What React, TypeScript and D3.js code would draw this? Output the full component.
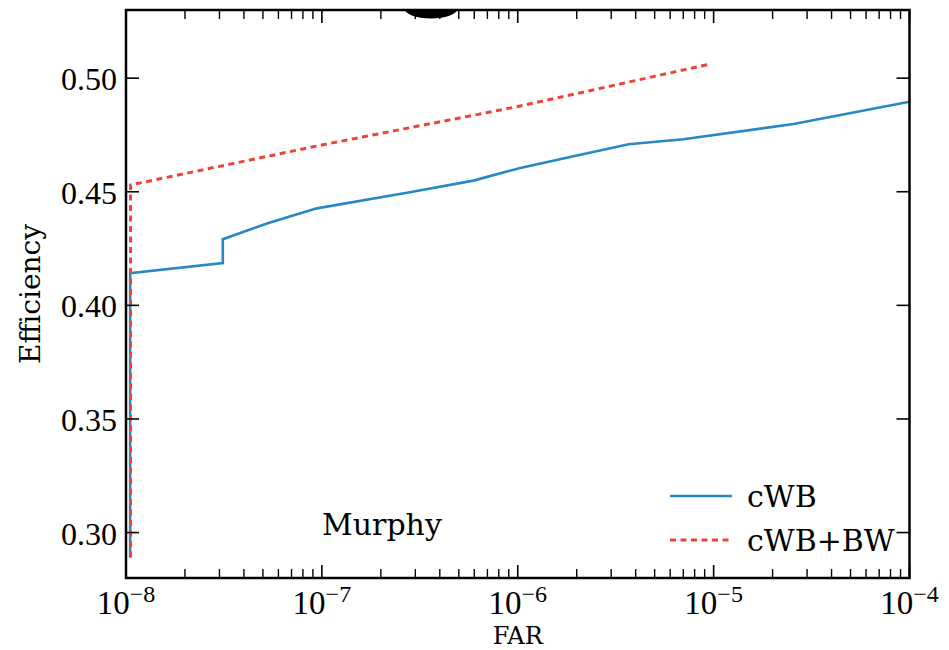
import React from 'react';
import * as d3 from 'd3';

// Axis ticks
const farDecades = [-8, -7, -6, -5, -4];
const effTicks = [0.3, 0.35, 0.4, 0.45, 0.5];

// cWB efficiency curve
const cwbFar = [1.05e-8, 1.05e-8, 3.12e-8, 3.12e-8, 5.24e-8, 9.42e-8, 2.72e-7, 5.94e-7, 1.03e-6, 1.85e-6, 3.68e-6, 7.0e-6, 2.56e-5, 1e-4];
const cwbEff = [0.289, 0.4142, 0.4186, 0.4291, 0.436, 0.4427, 0.4496, 0.4549, 0.4605, 0.4653, 0.4709, 0.4731, 0.4798, 0.4896];

// cWB+BW efficiency curve
const bwFar = [1.055e-8, 1.055e-8, 1e-7, 1e-6, 9.6e-6];
const bwEff = [0.289, 0.453, 0.4706, 0.4875, 0.5062];

const seriesNames = ['cWB', 'cWB+BW'];
const annotation = 'Murphy';

const W = 949;
const H = 650;
const L = 126;
const R = 909.5;
const T = 10;
const B = 578;

const BLUE = '#2689c6';
const RED = '#ef4335';
const SERIF_NUM = '"Liberation Serif", serif';
const SERIF_TXT = '"DejaVu Serif", serif';

export default function App() {
  const x = d3.scaleLog().domain([1e-8, 1e-4]).range([L, R]);
  const y = d3.scaleLinear().domain([0.28, 0.53]).range([B, T]);

  const line = d3
    .line<[number, number]>()
    .x((d) => x(d[0]))
    .y((d) => y(d[1]));

  const cwb = cwbFar.map((f, i) => [f, cwbEff[i]] as [number, number]);
  const bw = bwFar.map((f, i) => [f, bwEff[i]] as [number, number]);

  const minor: number[] = [];
  for (const e of farDecades.slice(0, -1)) {
    for (let m = 2; m <= 9; m++) minor.push(m * Math.pow(10, e));
  }

  const majLen = 13;
  const minLen = 9;

  return (
    <svg
      width={W}
      height={H}
      style={{ position: 'absolute', left: 0, top: 0, background: '#fff' }}
    >
      <defs>
        <clipPath id="plot">
          <rect x={L} y={T} width={R - L} height={B - T} />
        </clipPath>
      </defs>
      <rect x={0} y={0} width={W} height={H} fill="#fff" />

      <g clipPath="url(#plot)">
        <ellipse cx={431} cy={8} rx={27} ry={10.5} fill="#000" />
        <path d={line(cwb) ?? ''} fill="none" stroke={BLUE} strokeWidth={2.6} strokeLinejoin="miter" />
        <path d={line(bw) ?? ''} fill="none" stroke={RED} strokeWidth={3} strokeDasharray="6,4.5" />
      </g>

      {/* x ticks, bottom and top */}
      {farDecades.map((e) => {
        const px = x(Math.pow(10, e));
        return (
          <g key={'xm' + e}>
            <line x1={px} x2={px} y1={B} y2={B - majLen} stroke="#000" strokeWidth={1.6} />
            <line x1={px} x2={px} y1={T} y2={T + majLen} stroke="#000" strokeWidth={1.6} />
            <text
              x={px}
              y={614}
              textAnchor="middle"
              fontFamily={SERIF_NUM}
              fill="#000"
            >
              <tspan fontSize={33}>10</tspan>
              <tspan fontSize={24} dy={-12}>{'\u2212' + Math.abs(e)}</tspan>
            </text>
          </g>
        );
      })}
      {minor.map((v, i) => {
        const px = x(v);
        return (
          <g key={'xn' + i}>
            <line x1={px} x2={px} y1={B} y2={B - minLen} stroke="#000" strokeWidth={1.4} />
            <line x1={px} x2={px} y1={T} y2={T + minLen} stroke="#000" strokeWidth={1.4} />
          </g>
        );
      })}

      {/* y ticks, left and right */}
      {effTicks.map((v) => {
        const py = y(v);
        return (
          <g key={'y' + v}>
            <line x1={L} x2={L + majLen} y1={py} y2={py} stroke="#000" strokeWidth={1.6} />
            <line x1={R} x2={R - majLen} y1={py} y2={py} stroke="#000" strokeWidth={1.6} />
            <text
              x={117}
              y={py + 12}
              textAnchor="end"
              fontFamily={SERIF_NUM}
              fontSize={32}
              fill="#000"
            >
              {d3.format('.2f')(v)}
            </text>
          </g>
        );
      })}

      <rect x={L} y={T} width={R - L} height={B - T} fill="none" stroke="#000" strokeWidth={2.5} />

      {/* axis titles */}
      <text x={(L + R) / 2} y={644} textAnchor="middle" fontFamily={SERIF_TXT} fontSize={24} fill="#000">
        FAR
      </text>
      <text
        transform={`translate(40, ${(T + B) / 2}) rotate(-90)`}
        textAnchor="middle"
        fontFamily={SERIF_TXT}
        fontSize={28}
        fill="#000"
      >
        Efficiency
      </text>

      <text x={322} y={535} fontFamily={SERIF_TXT} fontSize={30} fill="#000">
        {annotation}
      </text>

      {/* legend */}
      <line x1={670} x2={732} y1={496} y2={496} stroke={BLUE} strokeWidth={2.6} />
      <line x1={670} x2={732} y1={540} y2={540} stroke={RED} strokeWidth={3} strokeDasharray="6,4.5" />
      <text x={747} y={507} fontFamily={SERIF_TXT} fontSize={30} fill="#000">
        {seriesNames[0]}
      </text>
      <text x={747} y={551} fontFamily={SERIF_TXT} fontSize={30} fill="#000">
        {seriesNames[1]}
      </text>
    </svg>
  );
}
